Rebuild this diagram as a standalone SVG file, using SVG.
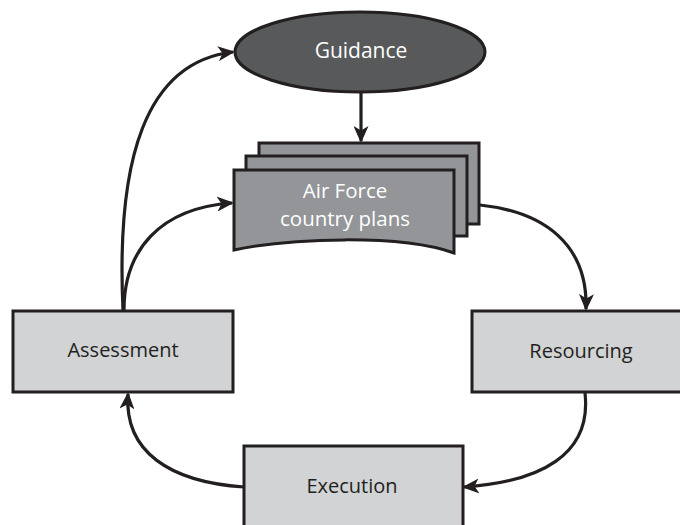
<svg xmlns="http://www.w3.org/2000/svg" width="680" height="525" viewBox="0 0 680 525">
<style>
.box{fill:#d1d3d4;stroke:#231f20;stroke-width:3}
.doc{fill:#939598;stroke:#231f20;stroke-width:3}
.lbl{font-family:"Open Sans","Noto Sans",sans-serif;font-size:20px;text-anchor:middle;fill:#231f20}
.wl{fill:#ffffff;font-size:21px}
.pl{font-size:20.5px}
.con{fill:none;stroke:#231f20;stroke-width:3.2}
</style>
<defs>
<marker id="ah" viewBox="0 0 17 15" refX="15" refY="7.5" markerWidth="17" markerHeight="15" markerUnits="userSpaceOnUse" orient="auto">
<path d="M0,0 L17,7.5 L0,15 L4.5,7.5 Z" fill="#231f20"/>
</marker>
</defs>
<rect width="680" height="525" fill="#ffffff"/>
<g id="guidance">
<ellipse cx="360" cy="52" rx="125" ry="40" fill="#58595b" stroke="#231f20" stroke-width="3"/>
<text class="lbl wl" x="361" y="58">Guidance</text>
</g>
<g id="plans">
<path class="doc" d="M259,143 H479 V224 H259 Z"/>
<path class="doc" d="M246,156 H467 V236 H246 Z"/>
<path class="doc" d="M234,170 H454 V253 C400,234 290,238 234,250 Z"/>
<text class="lbl wl pl" x="345" y="198">Air Force</text>
<text class="lbl wl pl" x="345" y="226">country plans</text>
</g>
<g id="assessment">
<rect class="box" x="13" y="311" width="220" height="81"/>
<text class="lbl" x="123" y="357">Assessment</text>
</g>
<g id="resourcing">
<rect class="box" x="472" y="311" width="212" height="81"/>
<text class="lbl" x="581" y="358">Resourcing</text>
</g>
<g id="execution">
<rect class="box" x="244" y="446" width="219" height="85"/>
<text class="lbl" x="352" y="493">Execution</text>
</g>
<g id="connectors">
<path class="con" d="M361,93 V141" marker-end="url(#ah)"/>
<path class="con" d="M123,310 C116,160 145,62 233,52" marker-end="url(#ah)"/>
<path class="con" d="M124,310 C124,250 160,208 232,203" marker-end="url(#ah)"/>
<path class="con" d="M480,205 C545,212 588,245 586,309" marker-end="url(#ah)"/>
<path class="con" d="M585,393 C592,455 540,482 464,487" marker-end="url(#ah)"/>
<path class="con" d="M244,487 C170,482 124,452 128,394" marker-end="url(#ah)"/>
</g>
</svg>
